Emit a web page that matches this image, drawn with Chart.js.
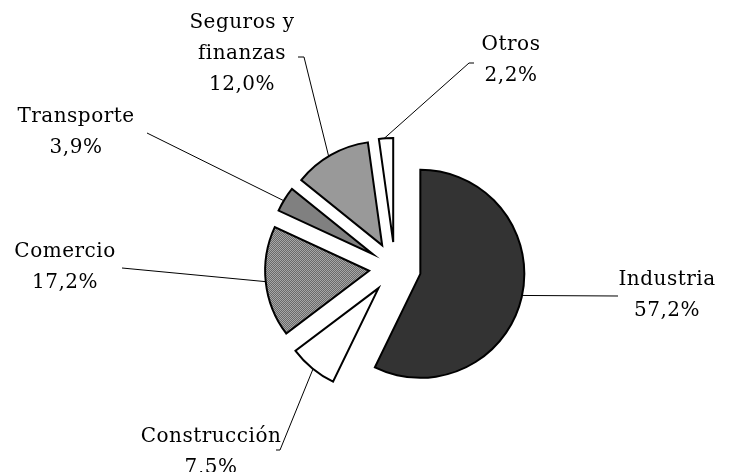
<!DOCTYPE html>
<html>
<head>
<meta charset="utf-8">
<script src="https://cdn.jsdelivr.net/npm/chart.js@4/dist/chart.umd.min.js"></script>
<style>
  html, body { margin: 0; padding: 0; background: #fff; }
  #wrap { width: 730px; height: 472px; }
</style>
</head>
<body>
<div id="wrap"><canvas id="myChart" width="730" height="472"></canvas></div>
<script>
// Chart data
var categories = ["Industria", "Construcción", "Comercio", "Transporte", "Seguros y finanzas", "Otros"];
var shares = [57.2, 7.5, 17.2, 3.9, 12.0, 2.2];
var labelLines = [["Industria"], ["Construcción"], ["Comercio"], ["Transporte"], ["Seguros y", "finanzas"], ["Otros"]];

// Label layout (angle where leader touches the slice, leader path, text center)
var leaderAngles = [102, 219, 264, 301, 329, 355];
var leaderPaths = [[[618, 296]], [[280, 450], [276, 450]], [[122, 268]], [[147, 133]], [[304, 57], [298, 57]], [[469, 63], [474, 63]]];
var labelCenters = [[667, 280], [211, 437], [65, 252], [76, 117], [242, 23], [511, 45]];
var EXPLODE = 26;
var LINE_GAP = 31;

function makePattern(a, b) {
    var c = document.createElement("canvas");
    c.width = 2; c.height = 2;
    var g = c.getContext("2d");
    g.fillStyle = a; g.fillRect(0, 0, 2, 2);
    g.fillStyle = b; g.fillRect(0, 0, 1, 1); g.fillRect(1, 1, 1, 1);
    return g.createPattern(c, "repeat");
}

var fills = ["#333333", "#ffffff", makePattern("#d8d8d8", "#3a3a3a"), "#808080", "#999999", "#ffffff"];

function formatShare(v) {
    return v.toFixed(1).replace(".", ",") + "%";
}

// draws each slice pulled out from the centre
var explodePlugin = {
    id: "explode",
    beforeDatasetDraw: function(chart, args) {
        var ctx = chart.ctx;
        args.meta.data.forEach(function(arc) {
            var mid = (arc.startAngle + arc.endAngle) / 2;
            ctx.save();
            ctx.translate(Math.cos(mid) * EXPLODE, Math.sin(mid) * EXPLODE);
            arc.draw(ctx);
            ctx.restore();
        });
        return false;
    },
    afterDraw: function(chart) {
        var ctx = chart.ctx;
        var meta = chart.getDatasetMeta(0);
        ctx.save();
        ctx.strokeStyle = "#000";
        ctx.lineWidth = 1;
        ctx.fillStyle = "#000";
        ctx.font = "20px 'DejaVu Serif'";
        ctx.letterSpacing = "0.5px";
        ctx.textAlign = "center";
        ctx.textBaseline = "middle";
        meta.data.forEach(function(arc, i) {
            var mid = (arc.startAngle + arc.endAngle) / 2;
            var ax = arc.x + Math.cos(mid) * EXPLODE;
            var ay = arc.y + Math.sin(mid) * EXPLODE;
            var t = (leaderAngles[i] - 90) * Math.PI / 180;
            ctx.beginPath();
            ctx.moveTo(ax + Math.cos(t) * arc.outerRadius, ay + Math.sin(t) * arc.outerRadius);
            leaderPaths[i].forEach(function(p) { ctx.lineTo(p[0], p[1]); });
            ctx.stroke();
            var lines = labelLines[i].concat([formatShare(shares[i])]);
            lines.forEach(function(txt, k) {
                ctx.fillText(txt, labelCenters[i][0], labelCenters[i][1] + k * LINE_GAP);
            });
        });
        ctx.restore();
    }
};

var ctx = document.getElementById("myChart").getContext("2d");
var myChart = new Chart(ctx, {
    type: "pie",
    data: {
        labels: categories,
        datasets: [{
            data: shares,
            backgroundColor: fills,
            borderColor: "#000000",
            borderWidth: 2,
            borderJoinStyle: "miter"
        }]
    },
    options: {
        responsive: false,
        animation: false,
        events: [],
        radius: 104,
        layout: { padding: { left: 60, top: 64, right: 0, bottom: 0 } },
        plugins: {
            legend: { display: false },
            tooltip: { enabled: false }
        }
    },
    plugins: [explodePlugin]
});
</script>
</body>
</html>
